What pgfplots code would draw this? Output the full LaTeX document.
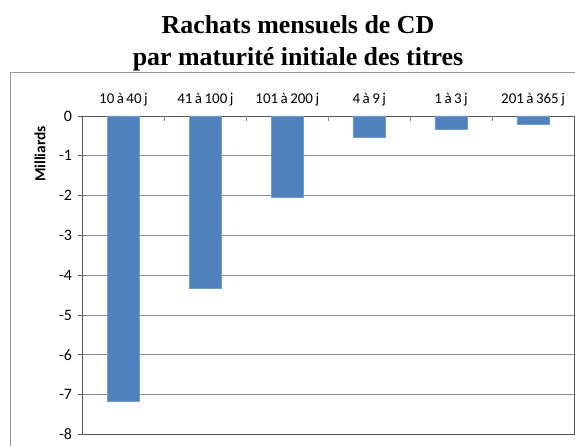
\documentclass[border=0pt]{standalone}
\usepackage{fontspec}
\setmainfont{Carlito}
\newfontfamily\titlefont{Liberation Serif}
\usepackage{pgfplots}
\pgfplotsset{compat=1.18}
\definecolor{barblue}{HTML}{4F81BD}
\definecolor{gridgray}{HTML}{8C8C8C}
\definecolor{axisgray}{HTML}{555555}
\definecolor{framegray}{HTML}{9A9A9A}
\begin{document}
\begin{tikzpicture}[x=1bp,y=1bp]
\useasboundingbox (0,0) rectangle (575,446);
\draw[framegray, line width=1bp] (10,-20) rectangle (620,373);
\node[font=\titlefont\bfseries\fontsize{26}{32}\selectfont, align=center] at (298,403) {Rachats mensuels de CD\\par maturité initiale des titres};
\begin{axis}[
  at={(82.5bp,11.5bp)}, anchor=south west,
  scale only axis, width=491.5bp, height=318.5bp,
  xmin=-0.5, xmax=5.5, ymin=-8, ymax=0,
  axis line style={axisgray, line width=0.9bp},
  ymajorgrids, grid style={gridgray, line width=0.8bp},
  ytick={-8,-7,...,0},
  ytick pos=left,
  tick align=outside,
  major tick length=5bp,
  y tick style={axisgray, line width=0.8bp},
  yticklabel style={font=\fontsize{16}{18}\selectfont, xshift=-2bp},
  /pgf/number format/assume math mode=true,
  xtick={0,1,2,3,4,5},
  xticklabels={10\,à\,40\,j, 41\,à\,100\,j, 101\,à\,200\,j, 4\,à\,9\,j, 1\,à\,3\,j, 201\,à\,365\,j},
  xtick pos=upper, xticklabel pos=upper,
  x tick style={draw=none},
  xticklabel style={font=\fontsize{15}{17}\selectfont, yshift=1bp},
  extra x ticks={0.5,1.5,2.5,3.5,4.5},
  extra x tick labels={},
  extra x tick style={x tick style={draw=gridgray, line width=0.8bp}, tick align=inside, major tick length=5bp, grid=none},
  ylabel={Milliards},
  ylabel style={at={(axis description cs:-0.0865,0.881)}, anchor=center, font=\bfseries\fontsize{15.5}{18}\selectfont},
  bar width=32.5bp,
]
\addplot[ybar, fill=barblue, draw=barblue!80!white, line width=0.5bp] coordinates {
(0,-7.16) (1,-4.33) (2,-2.04) (3,-0.54) (4,-0.33) (5,-0.20)
};
\end{axis}
\end{tikzpicture}
\end{document}
